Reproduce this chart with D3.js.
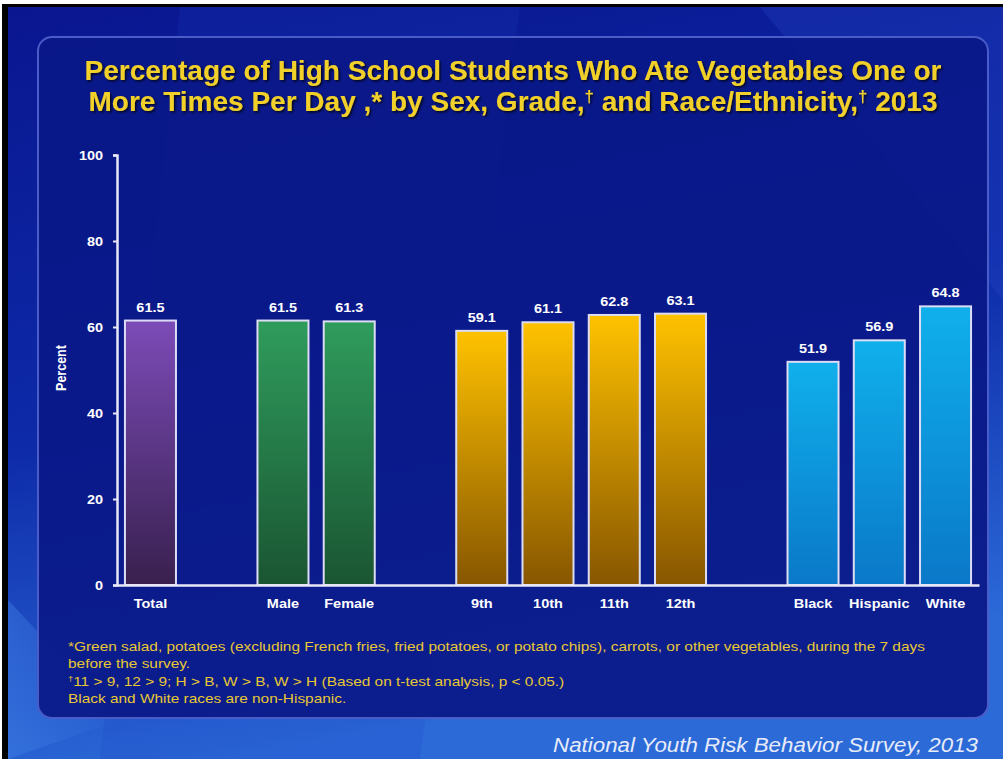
<!DOCTYPE html>
<html>
<head>
<meta charset="utf-8">
<script src="https://cdn.jsdelivr.net/npm/d3@7"></script>
<style>
  body { margin: 0; background: #fff; }
  svg { display: block; font-family: "Liberation Sans", Arial, sans-serif; }
</style>
</head>
<body>
<div id="chart"></div>
<script>
let W = 1003, H = 759
let SX = 1.16 // the slide text looks a bit stretched sideways

// data
let categories = ["Total", "Male", "Female", "9th", "10th", "11th", "12th", "Black", "Hispanic", "White"]
let values = [61.5, 61.5, 61.3, 59.1, 61.1, 62.8, 63.1, 51.9, 56.9, 64.8]
let groups = ["total", "sex", "sex", "grade", "grade", "grade", "grade", "race", "race", "race"]
// empty slots between groups
let slots = ["Total", "_a", "Male", "Female", "_b", "9th", "10th", "11th", "12th", "_c", "Black", "Hispanic", "White"]
let yTicks = [0, 20, 40, 60, 80, 100]

// each line is a list of [text, superscript?] pieces
let titleLines = [
  [["Percentage of High School Students Who Ate Vegetables One or", false]],
  [["More Times Per Day ,* by Sex, Grade,", false], ["\u2020", true], [" and Race/Ethnicity,", false], ["\u2020", true], [" 2013", false]]
]
let titleWidths = [857, 849]
let notes = [
  [["*Green salad, potatoes (excluding French fries, fried potatoes, or potato chips), carrots, or other vegetables, during the 7 days", false]],
  [["before the survey.", false]],
  [["\u2020", true], ["11 > 9, 12 > 9; H > B, W > B, W > H (Based on t-test analysis, p < 0.05.)", false]],
  [["Black and White races are non-Hispanic.", false]]
]
let source = "National Youth Risk Behavior Survey, 2013"

let gradColors = {
  total: ["#7c4bb8", "#38204e"],
  sex: ["#2f9c5c", "#1a5532"],
  grade: ["#ffc200", "#875600"],
  race: ["#10b0ec", "#0a78c8"]
}

let svg = d3.select("#chart").append("svg")
  .attr("width", W)
  .attr("height", H)

let defs = svg.append("defs")

let bg = defs.append("linearGradient").attr("id", "bg")
  .attr("x1", 0).attr("y1", 0).attr("x2", 0.25).attr("y2", 1)
bg.append("stop").attr("offset", "0%").attr("stop-color", "#0a1690")
bg.append("stop").attr("offset", "55%").attr("stop-color", "#0d2aa8")
bg.append("stop").attr("offset", "100%").attr("stop-color", "#2c6ad8")

let streak = defs.append("linearGradient").attr("id", "streak")
  .attr("x1", 0).attr("y1", 0).attr("x2", 1).attr("y2", 0)
streak.append("stop").attr("offset", "0%").attr("stop-color", "#4a8cf0").attr("stop-opacity", 0.35)
streak.append("stop").attr("offset", "100%").attr("stop-color", "#4a8cf0").attr("stop-opacity", 0)

Object.keys(gradColors).forEach(k => {
  let g = defs.append("linearGradient").attr("id", "g-" + k)
    .attr("x1", 0).attr("y1", 0).attr("x2", 0).attr("y2", 1)
  g.append("stop").attr("offset", "0%").attr("stop-color", gradColors[k][0])
  g.append("stop").attr("offset", "100%").attr("stop-color", gradColors[k][1])
})

let shadow = defs.append("filter").attr("id", "shadow")
  .attr("x", -0.05).attr("y", -0.2).attr("width", 1.1).attr("height", 1.5)
shadow.append("feDropShadow").attr("dx", 1.5).attr("dy", 1.5)
  .attr("stdDeviation", 1).attr("flood-color", "#000").attr("flood-opacity", 0.8)

// frame: white edge, black border, slide
svg.append("rect").attr("width", W).attr("height", H).attr("fill", "#fff")
svg.append("rect").attr("x", 2).attr("y", 4).attr("width", W - 2).attr("height", H - 4).attr("fill", "#000")
svg.append("rect").attr("x", 8).attr("y", 7).attr("width", W - 8).attr("height", H - 7).attr("fill", "url(#bg)")
svg.append("path")
  .attr("d", `M8,600 L120,720 L8,759 Z`)
  .attr("fill", "url(#streak)")
svg.append("path")
  .attr("d", `M180,7 L520,7 L420,759 L100,759 Z`)
  .attr("fill", "#1a40c0").attr("opacity", 0.18)
svg.append("path")
  .attr("d", `M760,7 L1003,7 L1003,300 Z`)
  .attr("fill", "#2a50d0").attr("opacity", 0.25)

// inner panel
svg.append("rect")
  .attr("x", 38).attr("y", 37)
  .attr("width", 950).attr("height", 681)
  .attr("rx", 14)
  .attr("fill", "#0a1888").attr("fill-opacity", 0.92)
  .attr("stroke", "#4a5cc8").attr("stroke-width", 2)

function addPieces(text, pieces, size) {
  text.selectAll("tspan")
    .data(pieces)
    .join("tspan")
    .attr("font-size", d => d[1] ? size * 0.6 : size)
    .attr("baseline-shift", d => d[1] ? "super" : null)
    .text(d => d[0])
}

// title
svg.append("g").selectAll("text")
  .data(titleLines)
  .join("text")
  .attr("x", 513)
  .attr("y", (d, i) => 80 + i * 31)
  .attr("text-anchor", "middle")
  .attr("font-size", 27)
  .attr("font-weight", "bold")
  .attr("fill", "#f2d02a")
  .attr("filter", "url(#shadow)")
  .attr("textLength", (d, i) => titleWidths[i])
  .attr("lengthAdjust", "spacingAndGlyphs")
  .each(function (d) { addPieces(d3.select(this), d, 27) })

let y = d3.scaleLinear()
  .domain([0, 100])
  .range([585, 155])

let x = d3.scaleBand()
  .domain(slots)
  .range([117, 979])
  .paddingInner(0.23)
  .paddingOuter(0.12)

// y axis
let yAxis = svg.append("g")
  .attr("transform", "translate(117,0)")
  .call(d3.axisLeft(y).tickValues(yTicks).tickSize(4).tickPadding(8))
yAxis.select(".domain").attr("stroke", "#e8e8f8").attr("stroke-width", 2.5)
yAxis.selectAll(".tick line").attr("stroke", "#e8e8f8").attr("stroke-width", 2)
yAxis.selectAll(".tick text")
  .attr("fill", "#fff")
  .attr("font-size", 12.5)
  .attr("font-weight", "bold")
  .attr("font-family", "Liberation Sans, Arial, sans-serif")
  .attr("transform", `scale(${SX},1)`)

svg.append("text")
  .attr("transform", `translate(66,368) rotate(-90) scale(1,${SX})`)
  .attr("text-anchor", "middle")
  .attr("fill", "#fff")
  .attr("font-size", 12.5)
  .attr("font-weight", "bold")
  .text("Percent")

// bars
let data = categories.map((c, i) => ({ cat: c, value: values[i], group: groups[i] }))

svg.append("g").selectAll("rect")
  .data(data)
  .join("rect")
  .attr("x", d => x(d.cat))
  .attr("y", d => y(d.value))
  .attr("width", x.bandwidth())
  .attr("height", d => y(0) - y(d.value))
  .attr("fill", d => `url(#g-${d.group})`)
  .attr("stroke", "#dcdcf4")
  .attr("stroke-width", 2)

svg.append("g").selectAll("text")
  .data(data)
  .join("text")
  .attr("transform", d => `translate(${x(d.cat) + x.bandwidth() / 2},${y(d.value) - 9}) scale(${SX},1)`)
  .attr("text-anchor", "middle")
  .attr("fill", "#fff")
  .attr("font-size", 12.5)
  .attr("font-weight", "bold")
  .text(d => d.value.toFixed(1))

// x axis
let xAxis = svg.append("g")
  .attr("transform", `translate(0,${y(0)})`)
  .call(d3.axisBottom(x).tickValues(categories).tickSize(0).tickPadding(14))
xAxis.select(".domain").attr("stroke", "#e8e8f8").attr("stroke-width", 2.5)
xAxis.selectAll(".tick text")
  .attr("fill", "#fff")
  .attr("font-size", 12.5)
  .attr("font-weight", "bold")
  .attr("font-family", "Liberation Sans, Arial, sans-serif")
  .attr("transform", `scale(${SX},1)`)

// footnotes, first line fitted to its width on the slide
let noteG = svg.append("g")
noteG.selectAll("text")
  .data(notes)
  .join("text")
  .attr("x", 0)
  .attr("y", (d, i) => i * 17.3)
  .attr("fill", "#e8c832")
  .attr("font-size", 13)
  .each(function (d) { addPieces(d3.select(this), d, 13) })
let firstLen = noteG.select("text").node().getComputedTextLength()
noteG.attr("transform", `translate(68,651) scale(${857 / firstLen},1)`)

svg.append("text")
  .attr("x", 978)
  .attr("y", 752)
  .attr("text-anchor", "end")
  .attr("fill", "#e8ecf8")
  .attr("font-size", 20)
  .attr("font-style", "italic")
  .attr("textLength", 425)
  .attr("lengthAdjust", "spacingAndGlyphs")
  .text(source)
</script>
</body>
</html>
